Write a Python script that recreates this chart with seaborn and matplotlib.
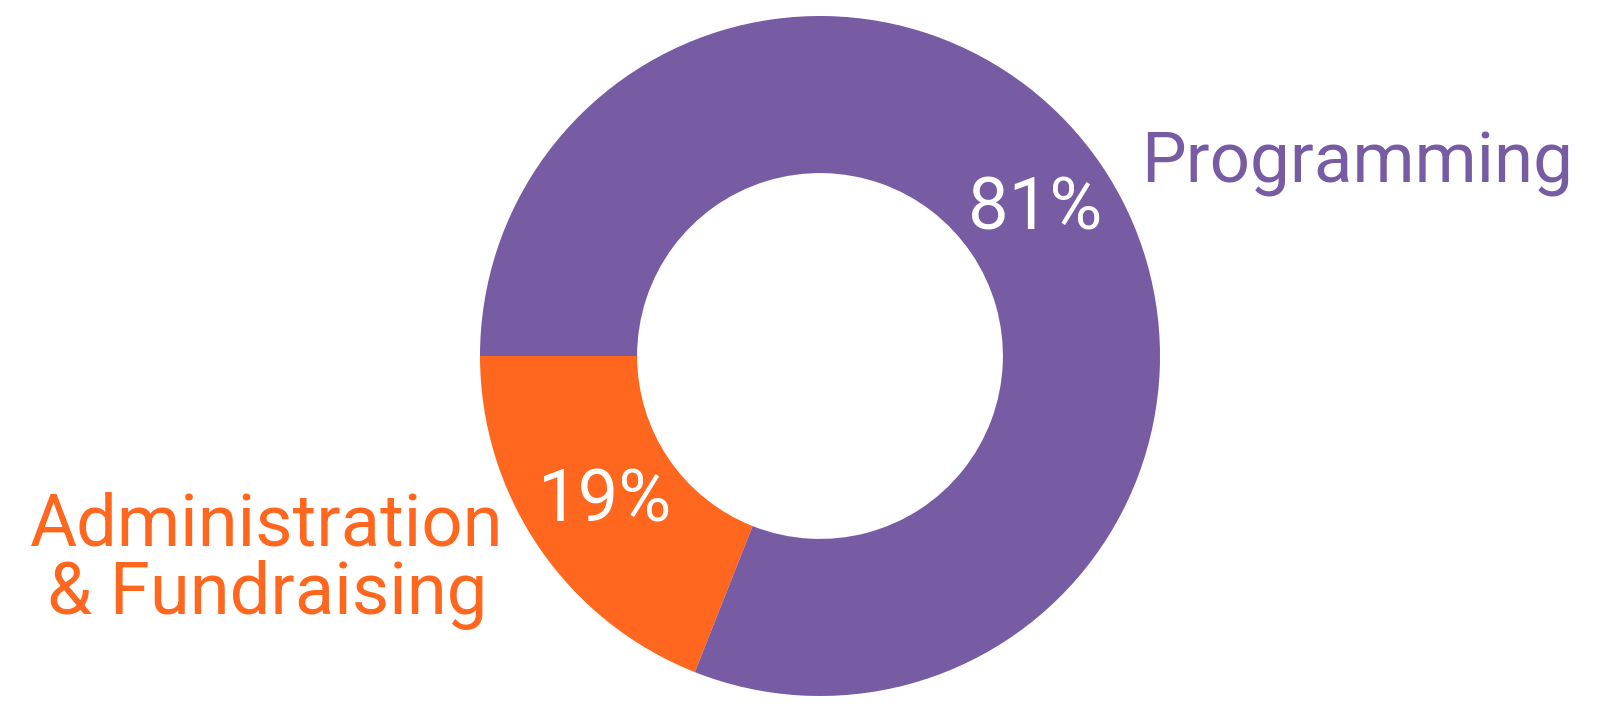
import matplotlib
matplotlib.use('Agg')
import matplotlib.pyplot as plt
import seaborn as sns

# data
categories = ['Administration\n& Fundraising', 'Programming']
shares = [19, 81]
colors = ['#FF671F', '#775BA3']

sns.set_theme(style='white')
plt.rcParams['font.family'] = ['Roboto', 'DejaVu Sans']

W, H = 1600, 712
cx, cy, R = 820, 356, 340

fig = plt.figure(figsize=(W / 100, H / 100), dpi=100)
ax = fig.add_axes([0, 0, 1, 1])

wedges, _, pcts = ax.pie(
    shares, colors=colors, startangle=180, counterclock=True, radius=1,
    wedgeprops=dict(width=0.462, linewidth=0),
    autopct=lambda p: f'{p:.0f}%', pctdistance=0.765,
    textprops=dict(color='white', fontsize=52),
)
for t in pcts:
    t.set_va('center')

ax.set_xlim(-cx / R, (W - cx) / R)
ax.set_ylim(-(H - cy) / R, cy / R)
ax.set_aspect('auto')
ax.axis('off')

# category labels
ax.text(0.944, 0.509, categories[1], color=colors[1], fontsize=51,
        ha='left', va='baseline')
ax.text(-1.626, -0.759, categories[0], color=colors[0], fontsize=52,
        ha='center', va='baseline', multialignment='center', linespacing=1.0)

fig.savefig('out.png', dpi=100, facecolor='white')
